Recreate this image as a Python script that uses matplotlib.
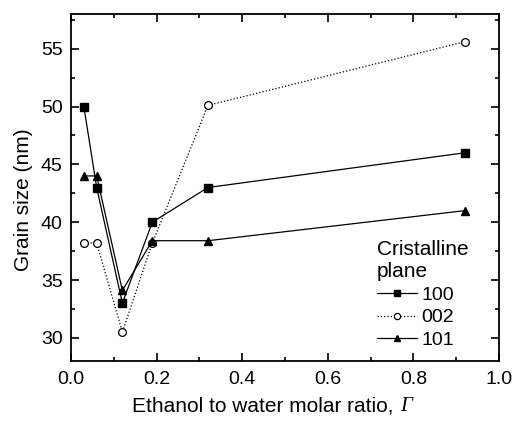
import numpy as np
import matplotlib
matplotlib.use('Agg')
import matplotlib.pyplot as plt
from matplotlib.ticker import MultipleLocator

plt.rcParams['font.family'] = ['Liberation Sans', 'DejaVu Sans']

# Ethanol to water molar ratio
ratio = [0.03, 0.06, 0.12, 0.19, 0.32, 0.92]
# Grain size (nm) per cristalline plane
size_100 = [50.0, 43.0, 33.0, 40.0, 43.0, 46.0]
size_002 = [38.2, 38.2, 30.5, 38.2, 50.1, 55.6]
size_101 = [44.0, 44.0, 34.1, 38.4, 38.4, 41.0]

fig = plt.figure(figsize=(5.15, 4.21), dpi=100)
ax = fig.add_axes([71 / 515, 1 - 361 / 421, 428 / 515, 347 / 421])

ax.plot(ratio, size_100, '-s', color='black', lw=0.9, ms=5.2, label='100')
ax.plot(ratio, size_002, ':o', color='black', lw=0.9, ms=5.6,
        mfc='white', mew=0.9, label='002')
ax.plot(ratio, size_101, '-^', color='black', lw=0.9, ms=6.2, label='101')

ax.set_xlim(0, 1.0)
ax.set_ylim(28, 58)
ax.xaxis.set_major_locator(MultipleLocator(0.2))
ax.xaxis.set_minor_locator(MultipleLocator(0.1))
ax.yaxis.set_major_locator(MultipleLocator(5))
ax.yaxis.set_minor_locator(MultipleLocator(2.5))
ax.xaxis.set_major_formatter(plt.FuncFormatter(lambda v, p: f'{v:.1f}'))
ax.tick_params(which='both', direction='in', top=True, right=True,
               labeltop=False, labelright=False, width=1.2)
ax.tick_params(which='major', length=6, labelsize=14, pad=7)
ax.tick_params(which='minor', length=3)
ax.tick_params(axis='y', which='major', pad=6)
for s in ax.spines.values():
    s.set_linewidth(1.3)

# x label with an italic serif Gamma appended at its right end
ax.set_xlabel('Ethanol to water molar ratio,', fontsize=15)
ax.xaxis.set_label_coords(0.448, -0.103)
ax.annotate('\u0393', xy=(1, 0), xycoords=ax.xaxis.label, xytext=(5, 0),
            textcoords='offset points', ha='left', va='bottom',
            fontsize=15, family='Liberation Serif', fontstyle='italic')
ax.set_ylabel('Grain size (nm)', fontsize=15)
ax.yaxis.set_label_coords(-0.088, 0.464)

leg = ax.legend(title='Cristalline\nplane', loc='lower right', frameon=False,
                fontsize=14, title_fontsize=15, handlelength=2.1,
                handletextpad=0.2, borderpad=0, borderaxespad=0,
                labelspacing=0.25, markerscale=0.8,
                bbox_to_anchor=(0.928, 0.035))
leg._legend_box.align = 'left'

fig.savefig('out.png', dpi=100)
